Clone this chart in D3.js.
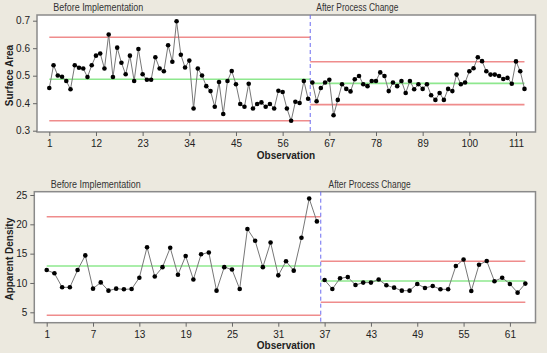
<!DOCTYPE html>
<html>
<head>
<meta charset="utf-8">
<script src="https://cdn.jsdelivr.net/npm/d3@7"></script>
<style>
  body { margin: 0; background: #ece9df; }
  svg { display: block; font-family: "Liberation Sans", Arial, sans-serif; }
  .tick text { fill: #222; }
</style>
</head>
<body>
<div id="chart"></div>
<script>
const WIDTH = 547;
const HEIGHT = 353;

// surface area, observations 1..62 and 63..113
const surfaceBefore = [
  0.455, 0.538, 0.501, 0.496, 0.481, 0.451, 0.538, 0.529, 0.526, 0.495,
  0.538, 0.573, 0.581, 0.526, 0.650, 0.495, 0.602, 0.547, 0.505, 0.573,
  0.481, 0.597, 0.505, 0.485, 0.485, 0.567, 0.526, 0.516, 0.611, 0.551,
  0.698, 0.576, 0.530, 0.555, 0.381, 0.526, 0.501, 0.462, 0.444, 0.387,
  0.477, 0.361, 0.481, 0.517, 0.469, 0.397, 0.387, 0.471, 0.381, 0.397,
  0.403, 0.387, 0.397, 0.381, 0.445, 0.441, 0.381, 0.336, 0.405, 0.401,
  0.481, 0.416
];
const surfaceAfter = [
  0.475, 0.407, 0.455, 0.475, 0.485, 0.356, 0.412, 0.469, 0.452, 0.443,
  0.487, 0.499, 0.469, 0.462, 0.481, 0.481, 0.512, 0.499, 0.444, 0.475,
  0.462, 0.481, 0.437, 0.481, 0.451, 0.469, 0.452, 0.469, 0.429, 0.412,
  0.437, 0.412, 0.452, 0.444, 0.504, 0.469, 0.475, 0.516, 0.527, 0.567,
  0.553, 0.516, 0.504, 0.504, 0.499, 0.488, 0.492, 0.471, 0.552, 0.516,
  0.452
];
// [LCL, CL, UCL]
const surfaceLimitsBefore = [0.336, 0.487, 0.640];
const surfaceLimitsAfter = [0.395, 0.472, 0.551];
const surfaceYTicks = [0.3, 0.4, 0.5, 0.6, 0.7];
const surfaceXTicks = [1, 12, 23, 34, 45, 56, 67, 78, 89, 100, 111];

// apparent density, observations 1..36 and 37..63
const densityBefore = [
  12.2, 11.65, 9.26, 9.26, 12.2, 14.7, 9.03, 10.1, 8.69, 9.03,
  8.92, 8.97, 10.9, 16.1, 11.1, 12.7, 16.0, 11.4, 14.6, 10.6,
  14.9, 15.2, 8.69, 12.7, 12.3, 8.97, 19.2, 17.2, 12.7, 16.9,
  11.3, 13.7, 12.1, 17.7, 24.4, 20.5
];
const densityAfter = [
  10.5, 8.98, 10.8, 11.0, 9.66, 10.06, 10.06, 10.6, 9.6, 9.2,
  8.69, 8.69, 9.83, 9.15, 9.49, 8.92, 8.92, 12.9, 14.0, 8.64,
  13.1, 13.75, 10.3, 10.9, 9.83, 8.35, 9.89
];
const densityLimitsBefore = [4.49, 12.9, 21.3];
const densityLimitsAfter = [6.71, 10.34, 13.7];
const densityYTicks = [5, 10, 15, 20, 25];
const densityXTicks = [1, 7, 13, 19, 25, 31, 37, 43, 49, 55, 61];

const stageNames = ["Before Implementation", "After Process Change"];

const svg = d3.select("#chart").append("svg")
  .attr("width", WIDTH).attr("height", HEIGHT);

function drawPanel(p) {
  const g = svg.append("g");
  const x = d3.scaleLinear().domain(p.xRef).range(p.xPix);
  const y = d3.scaleLinear().domain(p.yRef).range(p.yPix);
  const [fx0, fx1] = p.frameX, [fy0, fy1] = p.frameY;

  g.append("rect")
    .attr("x", fx0).attr("y", fy0)
    .attr("width", fx1 - fx0).attr("height", fy1 - fy0)
    .attr("fill", "#fff").attr("stroke", "#8a8a8a").attr("stroke-width", 1.5);

  // axes
  const ya = g.append("g").attr("transform", `translate(${fx0},0)`)
    .call(d3.axisLeft(y).tickValues(p.yTicks).tickSize(4).tickPadding(3)
      .tickFormat(p.yFmt));
  const xa = g.append("g").attr("transform", `translate(0,${fy1})`)
    .call(d3.axisBottom(x).tickValues(p.xTicks).tickSize(4).tickPadding(4));
  [ya, xa].forEach(a => {
    a.select(".domain").remove();
    a.selectAll(".tick line").attr("stroke", "#666");
    a.selectAll(".tick text").style("font-size", "10px")
      .style("font-family", "\"Liberation Sans\", Arial, sans-serif");
  });

  const nB = p.before.length;
  const nAll = nB + p.after.length;
  const split = nB + 0.5;

  // limit lines
  const limColors = ["#ef8c8c", "#8ee88e", "#ef8c8c"];
  [[p.limBefore, 1, split], [p.limAfter, split, nAll]].forEach(([lims, a, b]) => {
    lims.forEach((v, i) => {
      g.append("line")
        .attr("x1", x(a)).attr("x2", x(b))
        .attr("y1", y(v)).attr("y2", y(v))
        .attr("stroke", limColors[i]).attr("stroke-width", 1.6);
    });
  });

  // stage separator
  g.append("line")
    .attr("x1", x(split)).attr("x2", x(split))
    .attr("y1", fy0).attr("y2", fy1)
    .attr("stroke", "#6b6bf0").attr("stroke-width", 1)
    .attr("stroke-dasharray", "4,3");

  // stage labels
  [[1, stageNames[0]], [nB + 1, stageNames[1]]].forEach(([o, t], i) => {
    g.append("text")
      .attr("x", x(o) + 4).attr("y", fy0 - 4)
      .attr("textLength", i === 0 ? 90 : 82)
      .attr("lengthAdjust", "spacingAndGlyphs")
      .style("font-size", "10px").style("fill", "#333")
      .text(t);
  });

  // data
  const line = d3.line().x(d => x(d.o)).y(d => y(d.v));
  [p.before.map((v, i) => ({ o: i + 1, v })),
   p.after.map((v, i) => ({ o: nB + i + 1, v }))].forEach(seg => {
    g.append("path").datum(seg)
      .attr("d", line).attr("fill", "none")
      .attr("stroke", "#777").attr("stroke-width", 1);
    g.selectAll(null).data(seg).enter().append("circle")
      .attr("cx", d => x(d.o)).attr("cy", d => y(d.v))
      .attr("r", 2.3).attr("fill", "#000");
  });

  // titles
  g.append("text")
    .attr("transform", `translate(${p.yTitleX},${(fy0 + fy1) / 2 + 2}) rotate(-90)`)
    .attr("text-anchor", "middle")
    .style("font-size", "10px").style("font-weight", "bold").style("fill", "#222")
    .text(p.yTitle);
  g.append("text")
    .attr("x", 286).attr("y", p.xTitleY)
    .attr("text-anchor", "middle")
    .style("font-size", "10px").style("font-weight", "bold").style("fill", "#222")
    .text("Observation");
}

drawPanel({
  before: surfaceBefore, after: surfaceAfter,
  limBefore: surfaceLimitsBefore, limAfter: surfaceLimitsAfter,
  xRef: [1, 111], xPix: [49.3, 516],
  yRef: [0.3, 0.7], yPix: [130.7, 20.7],
  frameX: [37, 535.5], frameY: [15, 132],
  yTicks: surfaceYTicks, xTicks: surfaceXTicks, yFmt: d3.format(".1f"),
  yTitle: "Surface Area", yTitleX: 12.5, xTitleY: 159
});

drawPanel({
  before: densityBefore, after: densityAfter,
  limBefore: densityLimitsBefore, limAfter: densityLimitsAfter,
  xRef: [1, 61], xPix: [46.7, 509.9],
  yRef: [5, 25], yPix: [312.3, 195],
  frameX: [34.3, 535.5], frameY: [191.7, 322.7],
  yTicks: densityYTicks, xTicks: densityXTicks, yFmt: d3.format("d"),
  yTitle: "Apparent Density", yTitleX: 12.5, xTitleY: 349
});
</script>
</body>
</html>
